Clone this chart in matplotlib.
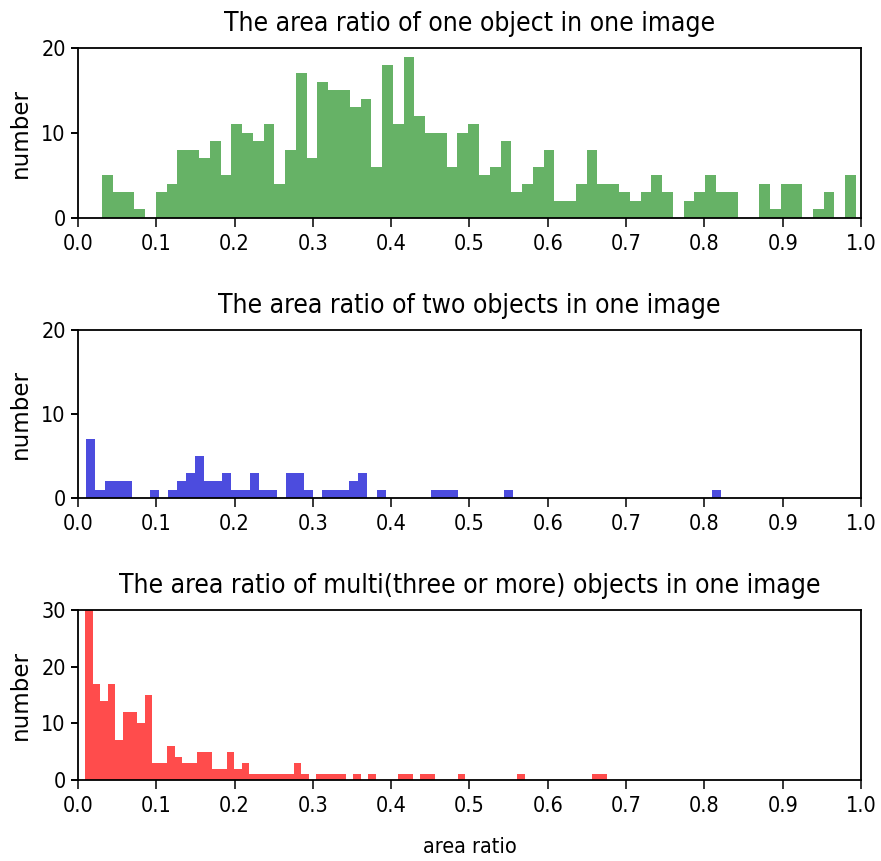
import matplotlib
matplotlib.use("Agg")
import matplotlib.pyplot as plt
import numpy as np

# ---- data (counts per histogram bin, 70 bins each, between min and max ratio) ----
one_range = (0.0307, 0.9936)
one_counts = [5, 3, 3, 1, 0, 3, 4, 8, 8, 7, 9, 5, 11, 10, 9, 11, 4, 8, 17, 7,
              16, 15, 15, 13, 14, 6, 18, 11, 19, 12, 10, 10, 6, 10, 11,
              5, 6, 9, 3, 4, 6, 8, 2, 2, 4, 8, 4, 4, 3, 2, 3, 5, 3, 0, 2,
              3, 5, 3, 3, 0, 0, 4, 1, 4, 4, 0, 1, 3, 0, 5]

two_range = (0.0107, 0.8214)
two_counts = [7, 1, 2, 2, 2, 0, 0, 1, 0, 1, 2, 3, 5, 2, 2, 3, 1, 1, 3, 1,
              1, 0, 3, 3, 1, 0, 1, 1, 1, 2, 3, 0, 1, 0, 0, 0, 0, 0, 1, 1,
              1, 0, 0, 0, 0, 0, 1, 0, 0, 0, 0, 0, 0, 0, 0, 0, 0, 0, 0, 0,
              0, 0, 0, 0, 0, 0, 0, 0, 0, 1]

multi_range = (0.0094, 0.6752)
multi_counts = [30, 17, 14, 17, 7, 12, 12, 10, 15, 3, 3, 6, 4, 3, 3, 5, 5, 2, 2, 5,
                2, 3, 1, 1, 1, 1, 1, 1, 3, 1, 0, 1, 1, 1, 1, 0, 1, 0, 1, 0,
                0, 0, 1, 1, 0, 1, 1, 0, 0, 0, 1, 0, 0, 0, 0, 0, 0, 0, 1, 0,
                0, 0, 0, 0, 0, 0, 0, 0, 1, 1]

titles = ["The area ratio of one object in one image",
          "The area ratio of two objects in one image",
          "The area ratio of multi(three or more) objects in one image"]
colors = [(0.0, 0.5, 0.0), (0.0, 0.0, 0.82), (1.0, 0.0, 0.0)]
alphas = [0.6, 0.7, 0.7]
ylims = [20, 20, 30]
xticks = [0.0, 0.1, 0.2, 0.3, 0.4, 0.5, 0.6, 0.7, 0.8, 0.9, 1.0]
xtick_labels = ["0.0", "0.1", "0.2", "0.3", "0.4", "0.5", "0.6", "0.7", "0.8", "0.9", "1.0"]

plt.rcParams['font.family'] = ['DejaVu Sans']
plt.rcParams['font.stretch'] = 'condensed'

fig = plt.figure(figsize=(8.81, 8.61), dpi=100)
W, H = 881, 861
boxes = [(48, 218), (330, 498), (610, 780)]
left, right = 78, 861

datasets = [(one_range, one_counts), (two_range, two_counts), (multi_range, multi_counts)]
for i, ((lo, hi), counts) in enumerate(datasets):
    top, bot = boxes[i]
    ax = fig.add_axes([left / W, 1 - bot / H, (right - left) / W, (bot - top) / H])
    edges = np.linspace(lo, hi, len(counts) + 1)
    centers = (edges[:-1] + edges[1:]) / 2
    ax.hist(centers, bins=edges, weights=counts, color=colors[i], alpha=alphas[i])
    ax.set_xlim(0, 1)
    ax.set_ylim(0, ylims[i])
    ax.set_yticks(np.arange(0, ylims[i] + 1, 10))
    ax.set_xticks(xticks)
    ax.set_xticklabels(xtick_labels)
    ax.tick_params(axis='x', length=6.3, width=1.1, pad=5, labelsize=15.5)
    ax.tick_params(axis='y', length=4.8, width=1.4, pad=4, labelsize=15.5)
    for s in ax.spines.values():
        s.set_linewidth(1.3)
    ax.set_title(titles[i], fontsize=19, pad=12)
    ax.set_ylabel("number", fontsize=16.5, fontstretch='normal', labelpad=7)
    if i == 2:
        ax.set_xlabel("area ratio", fontsize=15.5, labelpad=15)

fig.savefig("out.png", dpi=100)
